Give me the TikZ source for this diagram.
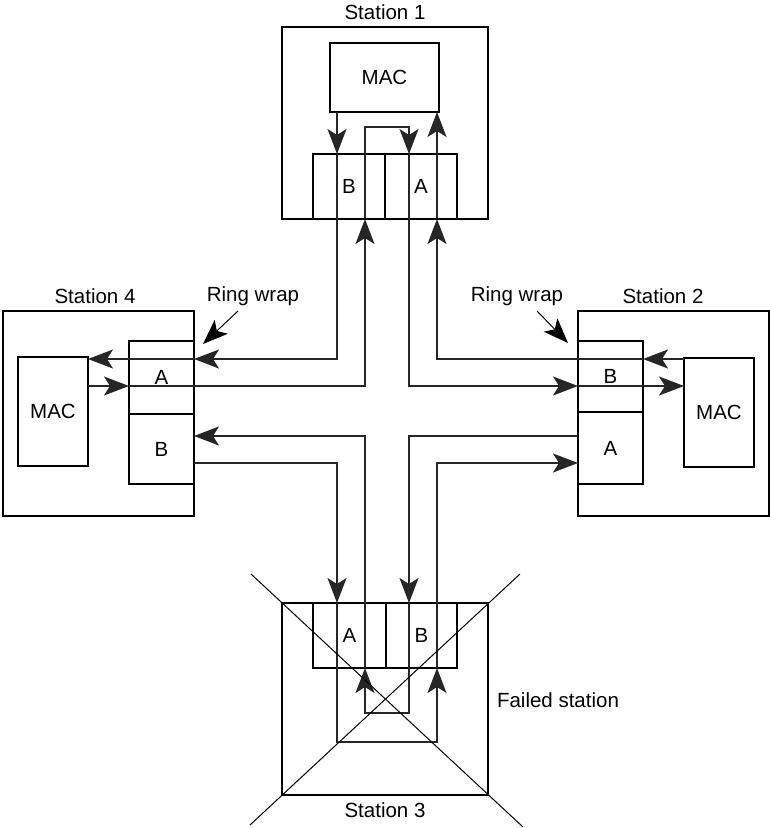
\documentclass[tikz,border=0pt]{standalone}
\usepackage{fontspec}
\setmainfont{Liberation Sans}
\usetikzlibrary{arrows.meta}
\tikzset{
  box/.style={draw, line width=1.2pt, inner sep=0pt, outer sep=0pt},
  lbl/.style={inner sep=0pt, font=\fontsize{20.5}{24}\selectfont},
  ring/.style={draw=black!85, line width=1.6pt},
  arr/.style={-{Stealth[length=25pt,width=19pt,inset=6pt]}},
  xline/.style={draw=black, line width=1pt}
}
\begin{document}
\begin{tikzpicture}[x=1pt,y=-1pt]
\useasboundingbox (0,0) rectangle (770,828);
% ---------- Station 1
\node[box, minimum width=206pt, minimum height=192pt] (s1) at (385,123) {};
\node[lbl] (s1t) at (385,12) {Station 1};
\node[box, lbl, minimum width=109pt, minimum height=69pt] (mac1) at (384.5,77.5) {MAC};
\node[box, lbl, minimum width=72pt, minimum height=65pt] (p1b) at (349,186.5) {B};
\node[box, lbl, minimum width=72pt, minimum height=65pt] (p1a) at (421,186.5) {A};
% ---------- Station 4
\node[box, minimum width=191pt, minimum height=205pt] (s4) at (98.5,413.5) {};
\node[lbl] (s4t) at (95,296) {Station 4};
\node[box, lbl, minimum width=70pt, minimum height=109pt] (mac4) at (53,411.5) {MAC};
\node[box, lbl, minimum width=65pt, minimum height=73pt] (p4a) at (161.5,377.5) {A};
\node[box, lbl, minimum width=65pt, minimum height=70pt] (p4b) at (161.5,449) {B};
% ---------- Station 2
\node[box, minimum width=191pt, minimum height=205pt] (s2) at (673.5,413.5) {};
\node[lbl] (s2t) at (663,296) {Station 2};
\node[box, lbl, minimum width=70pt, minimum height=109pt] (mac2) at (719,412.5) {MAC};
\node[box, lbl, minimum width=65pt, minimum height=71pt] (p2b) at (610.5,376.5) {B};
\node[box, lbl, minimum width=65pt, minimum height=72pt] (p2a) at (610.5,448) {A};
% ---------- Station 3
\node[box, minimum width=206pt, minimum height=192pt] (s3) at (385,699) {};
\node[lbl] (s3t) at (385,810) {Station 3};
\node[box, lbl, minimum width=73pt, minimum height=65pt] (p3a) at (349.5,635.5) {A};
\node[box, lbl, minimum width=71pt, minimum height=65pt] (p3b) at (421.5,635.5) {B};
\node[lbl] (fail) at (558,700) {Failed station};
% ---------- Ring wrap labels
\node[lbl] (rw4) at (253,296) {Ring wrap};
\node[lbl] (rw2) at (517,296) {Ring wrap};
\coordinate (rw4s) at (238,311);
\coordinate (rw4e) at (203,344);
\coordinate (rw2s) at (537,311);
\coordinate (rw2e) at (568,343);
\draw[line width=1pt, arr] (rw4s) -- (rw4e);
\draw[line width=1pt, arr] (rw2s) -- (rw2e);
% ---------- guide coordinates
\coordinate (v1) at (337,0);
\coordinate (v2) at (365,0);
\coordinate (v3) at (409,0);
\coordinate (v4) at (437,0);
\coordinate (h1) at (0,359);
\coordinate (h2) at (0,386);
\coordinate (h3) at (0,436);
\coordinate (h4) at (0,463);
\coordinate (t1) at (0,127);
\coordinate (b1) at (0,742);
\coordinate (b2) at (0,713);
% ---------- ring connectors
\draw[ring, arr] (mac1.south -| v1) -- (p1b.north -| v1);
\draw[ring, arr] (p1b.north -| v1) -- (v1 |- h1) -- (p4a.east |- h1);
\draw[ring, arr] (p4a.east |- h1) -- (mac4.east |- h1);
\draw[ring, arr] (mac4.east |- h2) -- (p4a.west |- h2);
\draw[ring, arr] (p4a.west |- h2) -- (v2 |- h2) -- (s1.south -| v2);
\draw[ring, arr] (s1.south -| v2) -- (v2 |- t1) -- (v3 |- t1) -- (p1a.north -| v3);
\draw[ring, arr] (p1a.north -| v3) -- (v3 |- h2) -- (p2b.west |- h2);
\draw[ring, arr] (p2b.west |- h2) -- (mac2.west |- h2);
\draw[ring, arr] (mac2.west |- h1) -- (p2b.east |- h1);
\draw[ring, arr] (p2b.east |- h1) -- (v4 |- h1) -- (s1.south -| v4);
\draw[ring, arr] (s1.south -| v4) -- (mac1.south -| v4);
\draw[ring, arr] (p4b.east |- h4) -- (v1 |- h4) -- (p3a.north -| v1);
\draw[ring, arr] (p3a.north -| v1) -- (v1 |- b1) -- (v4 |- b1) -- (p3b.south -| v4);
\draw[ring, arr] (p3b.south -| v4) -- (v4 |- h4) -- (p2a.west |- h4);
\draw[ring, arr] (p2a.west |- h3) -- (v3 |- h3) -- (p3b.north -| v3);
\draw[ring, arr] (p3b.north -| v3) -- (v3 |- b2) -- (v2 |- b2) -- (p3a.south -| v2);
\draw[ring, arr] (p3a.south -| v2) -- (v2 |- h3) -- (p4b.east |- h3);
% ---------- failed-station cross
\coordinate (xa1) at (251,574);
\coordinate (xa2) at (523,827);
\coordinate (xb1) at (520,574);
\coordinate (xb2) at (250,825);
\draw[xline] (xa1) -- (xa2);
\draw[xline] (xb1) -- (xb2);
\end{tikzpicture}
\end{document}
